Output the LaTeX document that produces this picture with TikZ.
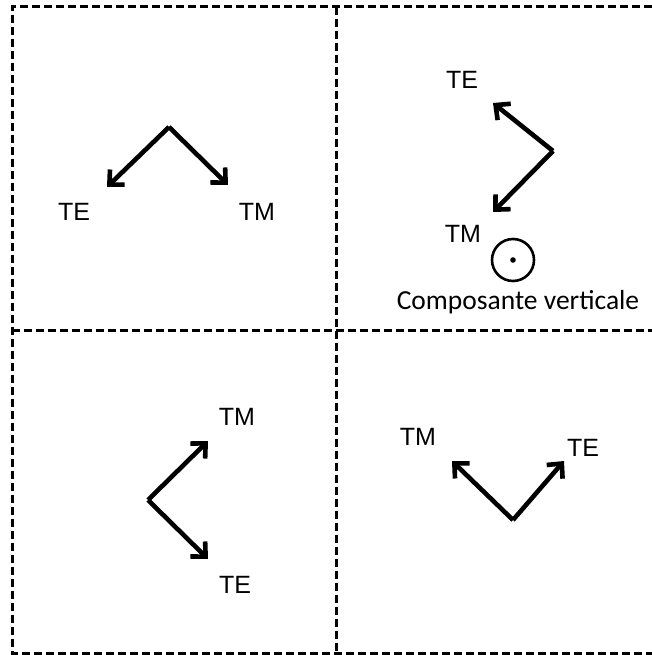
\documentclass[tikz,border=0pt]{standalone}
\usepackage{fontspec}
\setmainfont{Liberation Sans}
\newfontfamily\calibfont{Carlito}
\usepackage{tikz}
\usetikzlibrary{arrows.meta}

\begin{document}
\begin{tikzpicture}[x=1pt, y=-1pt,
    frame/.style={line width=3pt, dash pattern=on 8pt off 4pt},
    vec/.style={line width=4.6pt, line join=miter, -{Straight Barb[length=11pt, width=21pt, line width=4.6pt]}},
    lbl/.style={font=\fontsize{25}{28}\selectfont, inner sep=0pt}]
  \useasboundingbox (0,0) rectangle (652,655);

  % Grid (dashed frame)
  \draw[frame] (652,7) -- (12,7) -- (12,653) -- (652,653);
  \draw[frame] (336,7) -- (336,653);
  \draw[frame] (12,330) -- (652,330);

  % Top left
  \coordinate (tlO) at (169,127);
  \coordinate (tlE) at (107,187);
  \coordinate (tlM) at (228,185);
  \draw[vec] (tlO) -- (tlE);
  \draw[vec] (tlO) -- (tlM);
  \node[lbl] (tlTE) at (74,212) {TE};
  \node[lbl] (tlTM) at (257,212) {TM};

  % Top right
  \coordinate (trO) at (553,151);
  \coordinate (trE) at (493,103);
  \coordinate (trM) at (493,212);
  \draw[vec] (trO) -- (trE);
  \draw[vec] (trO) -- (trM);
  \node[lbl] (trTE) at (462,80) {TE};
  \node[lbl] (trTM) at (463,234) {TM};
  \node[circle, draw, line width=2.6pt, minimum size=42pt, inner sep=0pt] (trV) at (513,260) {};
  \fill (trV.center) circle (2.8pt);
  \node[font=\calibfont\fontsize{27.5}{30}\selectfont, inner sep=0pt] (trLbl) at (518,302) {Composante verticale};

  % Bottom left
  \coordinate (blO) at (148,500);
  \coordinate (blM) at (208,441);
  \coordinate (blE) at (208,559);
  \draw[vec] (blO) -- (blM);
  \draw[vec] (blO) -- (blE);
  \node[lbl] (blTM) at (237,417) {TM};
  \node[lbl] (blTE) at (235,585) {TE};

  % Bottom right
  \coordinate (brO) at (513,520);
  \coordinate (brM) at (452,461);
  \coordinate (brE) at (564,461);
  \draw[vec] (brO) -- (brM);
  \draw[vec] (brO) -- (brE);
  \node[lbl] (brTM) at (418,437) {TM};
  \node[lbl] (brTE) at (583,448) {TE};
\end{tikzpicture}
\end{document}
